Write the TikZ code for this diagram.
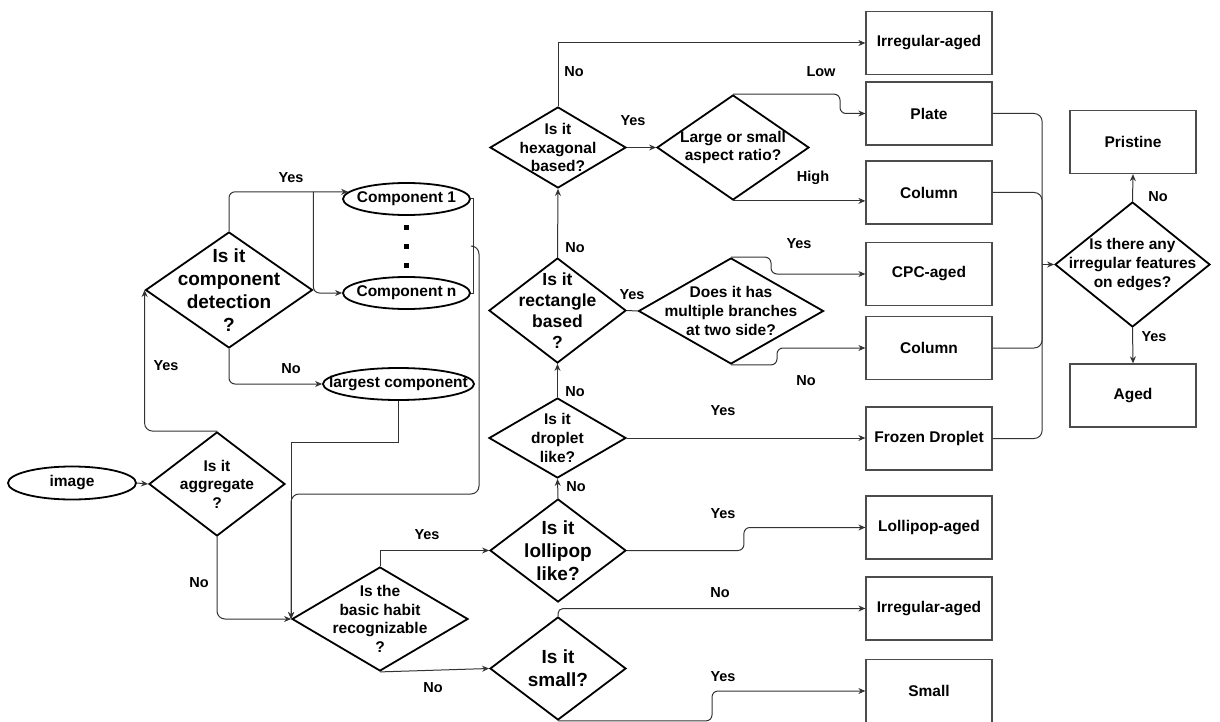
\documentclass[tikz,border=0pt]{standalone}
\usepackage{fontspec}
\setmainfont{Liberation Sans}
\usetikzlibrary{shapes.geometric,arrows.meta,calc}
\tikzset{
  edge/.style={line width=1pt, draw=black!80},
  arr/.style={edge, -{Stealth[length=7pt,width=6pt]}},
  dia/.style={diamond, draw=black, line width=1.8pt, inner sep=0pt},
  ell/.style={ellipse, draw=black, line width=1.8pt, inner sep=0pt},
  box/.style={rectangle, draw=black!70, line width=1.3pt, minimum width=126pt, minimum height=63pt, inner sep=0pt, font={\fontsize{15.5}{18.6}\selectfont\bfseries}},
  tM/.style={font={\fontsize{15.5}{18.6}\selectfont\bfseries}, align=center, inner sep=0pt},
  tR/.style={font={\fontsize{17.5}{21.2}\selectfont\bfseries}, align=center, inner sep=0pt},
  tL/.style={font={\fontsize{19}{23}\selectfont\bfseries}, align=center, inner sep=0pt},
  lbl/.style={font={\fontsize{14.5}{17}\selectfont\bfseries}, inner sep=0pt},
}
\begin{document}
\begin{tikzpicture}[x=1pt,y=-1pt]
\useasboundingbox (0,0) rectangle (1220,722);

% ellipses
\node[ell, minimum width=128pt, minimum height=33pt, label={[tM]center:image}] (img) at (72,483) {};
\node[ell, minimum width=127pt, minimum height=32pt, label={[tM]center:Component 1}] (c1) at (406.5,199) {};
\node[ell, minimum width=127pt, minimum height=32pt, label={[tM]center:Component n}] (cn) at (406.5,293) {};
\node[ell, minimum width=151pt, minimum height=32pt, label={[tM]center:largest component}] (lg) at (398.5,384) {};

% diamonds
\node[dia, minimum width=136pt, minimum height=104pt, label={[tM]center:{Is it\\aggregate\\?}}] (agg) at (217,484) {};
\node[dia, minimum width=167pt, minimum height=116pt, label={[tL]center:{Is it\\component\\detection\\?}}] (cd) at (229,290) {};
\node[dia, minimum width=176pt, minimum height=104pt, label={[tM]center:{Is the\\basic habit\\recognizable\\?}}] (basic) at (380,619) {};
\node[dia, minimum width=136pt, minimum height=103pt, label={[tL]center:{Is it\\lollipop\\like?}}] (lol) at (558,550.5) {};
\node[dia, minimum width=136pt, minimum height=103pt, label={[tL]center:{Is it\\small?}}] (small) at (558,668.5) {};
\node[dia, minimum width=137pt, minimum height=80pt, label={[tM]center:{Is it\\droplet\\like?}}] (drop) at (557.5,438) {};
\node[dia, minimum width=137pt, minimum height=105pt, label={[tR]center:{Is it\\rectangle\\based\\?}}] (rect) at (557.5,310.5) {};
\node[dia, minimum width=136pt, minimum height=81pt, label={[tM]center:{Is it\\hexagonal\\based?}}] (hex) at (558,147.5) {};
\node[dia, minimum width=152pt, minimum height=105pt, label={[tM]center:{Large or small\\aspect ratio?}}] (asp) at (733,147.5) {};
\node[dia, minimum width=185pt, minimum height=106pt, label={[tM]center:{Does it has\\multiple branches\\at two side?}}] (br) at (731,311) {};
\node[dia, minimum width=155pt, minimum height=125pt, label={[tM]center:{Is there any\\irregular features\\on edges?}}] (dec) at (1132.5,264.5) {};

% boxes
\node[box] (irr1) at (929,43) {Irregular-aged};
\node[box] (plate) at (929,113.5) {Plate};
\node[box] (col1) at (929,192.5) {Column};
\node[box] (cpc) at (929,274) {CPC-aged};
\node[box] (col2) at (929,348) {Column};
\node[box] (frozen) at (929,438.5) {Frozen Droplet};
\node[box] (lolaged) at (929,527.5) {Lollipop-aged};
\node[box] (irr2) at (929,608.5) {Irregular-aged};
\node[box] (smallb) at (929,691) {Small};
\node[box] (pristine) at (1133,142) {Pristine};
\node[box] (aged) at (1133,395.5) {Aged};

% dots between components
\foreach \yy in {227,246,265} \fill (403.5,\yy-2.5) rectangle (408.5,\yy+2.5);

% left part
\draw[arr] (img.east) -- (agg.west);
\draw[arr, rounded corners=8pt] (agg.north) -| (cd.west);
\draw[arr, rounded corners=8pt] (agg.south) |- (basic.west);
\draw[arr, rounded corners=6pt] (cd.north) |- (c1.173);
\coordinate (yj) at (cd.east |- c1.173);
\draw[arr, rounded corners=6pt] (yj) |- (cn.west);
\draw[arr, rounded corners=6pt] (cd.south) |- (lg.west);
\coordinate (bj) at (473,246);
\coordinate (bk) at (479,246);
\draw[edge] (c1.east) -| (bj);
\draw[edge] (cn.east) -| (bj);
\draw[arr, rounded corners=8pt] (bj) -- (bk) |- ($(basic.west)+(0,-125)$) -- (basic.west);
\draw[arr] (lg.south) |- ($(basic.west)+(0,-177)$) -- (basic.west);

% middle
\draw[arr] (basic.north) |- (lol.west);
\draw[arr] (basic.south) -- (small.west);
\draw[arr] (lol.north) -- (drop.south);
\draw[arr] (drop.north) -- (rect.south);
\draw[arr] (rect.north) -- (hex.south);
\draw[arr] (hex.north) |- (irr1.west);
\draw[arr] (hex.east) -- (asp.west);
\draw[arr, rounded corners=6pt] (asp.north) -- ++(107,0) |- (plate.west);
\draw[arr] (asp.south) -- (asp.south -| col1.west);
\draw[edge] (rect.east) -- (br.west);
\draw[arr, rounded corners=6pt] (br.north) -- ++(40,0) |- (cpc.west);
\draw[arr, rounded corners=6pt] (br.south) -- ++(46,0) |- (col2.west);
\draw[arr] (drop.east) -- (drop.east -| frozen.west);
\draw[arr, rounded corners=6pt] (lol.east) -- ++(117,0) |- (lolaged.west);
\draw[arr, rounded corners=5pt] (small.north) |- (irr2.west);
\draw[arr, rounded corners=6pt] (small.south) -- ++(154,0) |- (smallb.west);

% right part
\coordinate (mrg) at ($(dec.west)+(-12,0)$);
\draw[edge, rounded corners=8pt] (plate.east) -| (mrg);
\draw[edge, rounded corners=8pt] (col1.east) -| (mrg);
\draw[edge, rounded corners=8pt] (col2.east) -| (mrg);
\draw[edge, rounded corners=8pt] (frozen.east) -| (mrg);
\draw[arr] (mrg) -- (dec.west);
\draw[arr] (dec.north) -- (pristine.south);
\draw[arr] (dec.south) -- (aged.north);

% labels
\node[lbl] (l1) at (291,178) {Yes};
\node[lbl] (l2) at (291,369) {No};
\node[lbl] (l3) at (166,366) {Yes};
\node[lbl] (l4) at (199,583) {No};
\node[lbl] (l5) at (427,535) {Yes};
\node[lbl] (l6) at (433,688) {No};
\node[lbl] (l7) at (576,487) {No};
\node[lbl] (l8) at (723,514) {Yes};
\node[lbl] (l9) at (720,593) {No};
\node[lbl] (l10) at (723,677) {Yes};
\node[lbl] (l11) at (723,411) {Yes};
\node[lbl] (l12) at (575,392) {No};
\node[lbl] (l13) at (575,248) {No};
\node[lbl] (l14) at (632,295) {Yes};
\node[lbl] (l15) at (799,244) {Yes};
\node[lbl] (l16) at (806,381) {No};
\node[lbl] (l17) at (574,72) {No};
\node[lbl] (l18) at (633,121) {Yes};
\node[lbl] (l19) at (821,72) {Low};
\node[lbl] (l20) at (813,178) {High};
\node[lbl] (l21) at (1158,197) {No};
\node[lbl] (l22) at (1154,337) {Yes};
\end{tikzpicture}
\end{document}
